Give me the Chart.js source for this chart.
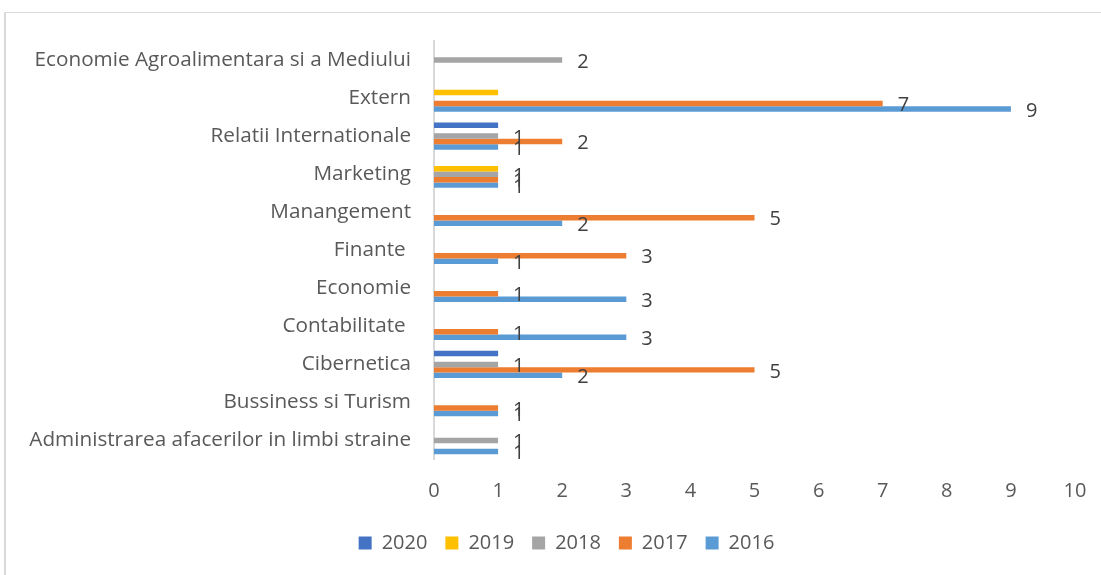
<!DOCTYPE html>
<html>
<head>
<meta charset="utf-8">
<script src="https://cdn.jsdelivr.net/npm/chart.js@4/dist/chart.umd.min.js"></script>
<style>
  html, body { margin: 0; padding: 0; background: #fff; }
  #wrap { position: relative; width: 1101px; height: 575px; overflow: hidden; }
  #frame { position: absolute; left: 4px; top: 12px; width: 1200px; height: 700px;
           border-top: 1px solid #d9d9d9; border-left: 2px solid #d9d9d9; }
  #chart { position: absolute; left: 0; top: 0; }
</style>
</head>
<body>
<div id="wrap">
  <div id="frame"></div>
  <canvas id="chart" width="1101" height="575"></canvas>
</div>
<script>
var categories = [
  'Economie Agroalimentara si a Mediului',
  'Extern',
  'Relatii Internationale',
  'Marketing',
  'Manangement',
  'Finante ',
  'Economie',
  'Contabilitate ',
  'Cibernetica',
  'Bussiness si Turism',
  'Administrarea afacerilor in limbi straine'
];
var years = ['2020', '2019', '2018', '2017', '2016'];
var s2020 = [null, null, 1, null, null, null, null, null, 1, null, null];
var s2019 = [null, 1, null, 1, null, null, null, null, null, null, null];
var s2018 = [2, null, 1, 1, null, null, null, null, 1, null, 1];
var s2017 = [null, 7, 2, 1, 5, 3, 1, 1, 5, 1, null];
var s2016 = [null, 9, 1, 1, 2, 1, 3, 3, 2, 1, 1];
var xTicks = [0, 1, 2, 3, 4, 5, 6, 7, 8, 9, 10];
// only these series carry value labels in the original
var labelledYears = ['2018', '2017', '2016'];

var colors = ['#4472C4', '#FFC000', '#A5A5A5', '#ED7D31', '#5B9BD5'];
var seriesData = [s2020, s2019, s2018, s2017, s2016];
var FONT = "'Open Sans', 'Liberation Sans', sans-serif";

var _datasets = [];
for (let i = 0; i < years.length; i++) {
  _datasets.push({
    label: years[i],
    data: seriesData[i],
    backgroundColor: colors[i],
    borderWidth: 0,
    barPercentage: 1,
    categoryPercentage: 0.72
  });
}

var valueLabels = {
  id: 'valueLabels',
  afterDatasetsDraw: function (chart) {
    var ctx = chart.ctx;
    ctx.save();
    ctx.font = '20px ' + FONT;
    ctx.fillStyle = '#404040';
    ctx.textAlign = 'left';
    ctx.textBaseline = 'middle';
    chart.data.datasets.forEach(function (ds, i) {
      if (labelledYears.indexOf(ds.label) < 0) return;
      chart.getDatasetMeta(i).data.forEach(function (bar, j) {
        var v = ds.data[j];
        if (v === null || v === undefined) return;
        ctx.fillText(String(v), bar.x + 15, bar.y + 2);
      });
    });
    ctx.restore();
  }
};

// legend sits a bit right of the canvas centre, like the original
var legendShift = {
  id: 'legendShift',
  afterLayout: function (chart) {
    chart.legend.left += 58;
  }
};

new Chart(document.getElementById('chart'), {
  type: 'bar',
  data: {
    labels: categories,
    datasets: _datasets
  },
  options: {
    indexAxis: 'y',
    responsive: false,
    animation: false,
    layout: {
      padding: { top: 41, right: 26, bottom: 12, left: 0 }
    },
    scales: {
      x: {
        min: 0,
        max: 10,
        afterBuildTicks: function (scale) {
          scale.ticks = xTicks.map(function (v) { return { value: v }; });
        },
        afterFit: function (scale) {
          scale.height = 55.5;
          scale.paddingRight = 0;
        },
        grid: { display: false, drawTicks: false },
        border: { display: false },
        ticks: {
          padding: 20,
          color: '#595959',
          font: { family: FONT, size: 20 }
        }
      },
      y: {
        afterFit: function (scale) { scale.width = 434; },
        grid: { display: false, drawTicks: false },
        border: { display: true, color: '#d9d9d9', width: 2 },
        ticks: {
          padding: 23,
          color: '#595959',
          font: { family: FONT, size: 20.7 }
        }
      }
    },
    plugins: {
      legend: {
        position: 'bottom',
        labels: {
          boxWidth: 13,
          boxHeight: 13,
          padding: 18,
          color: '#595959',
          font: { family: FONT, size: 20 }
        }
      },
      tooltip: { enabled: false }
    }
  },
  plugins: [valueLabels, legendShift]
});
</script>
</body>
</html>
